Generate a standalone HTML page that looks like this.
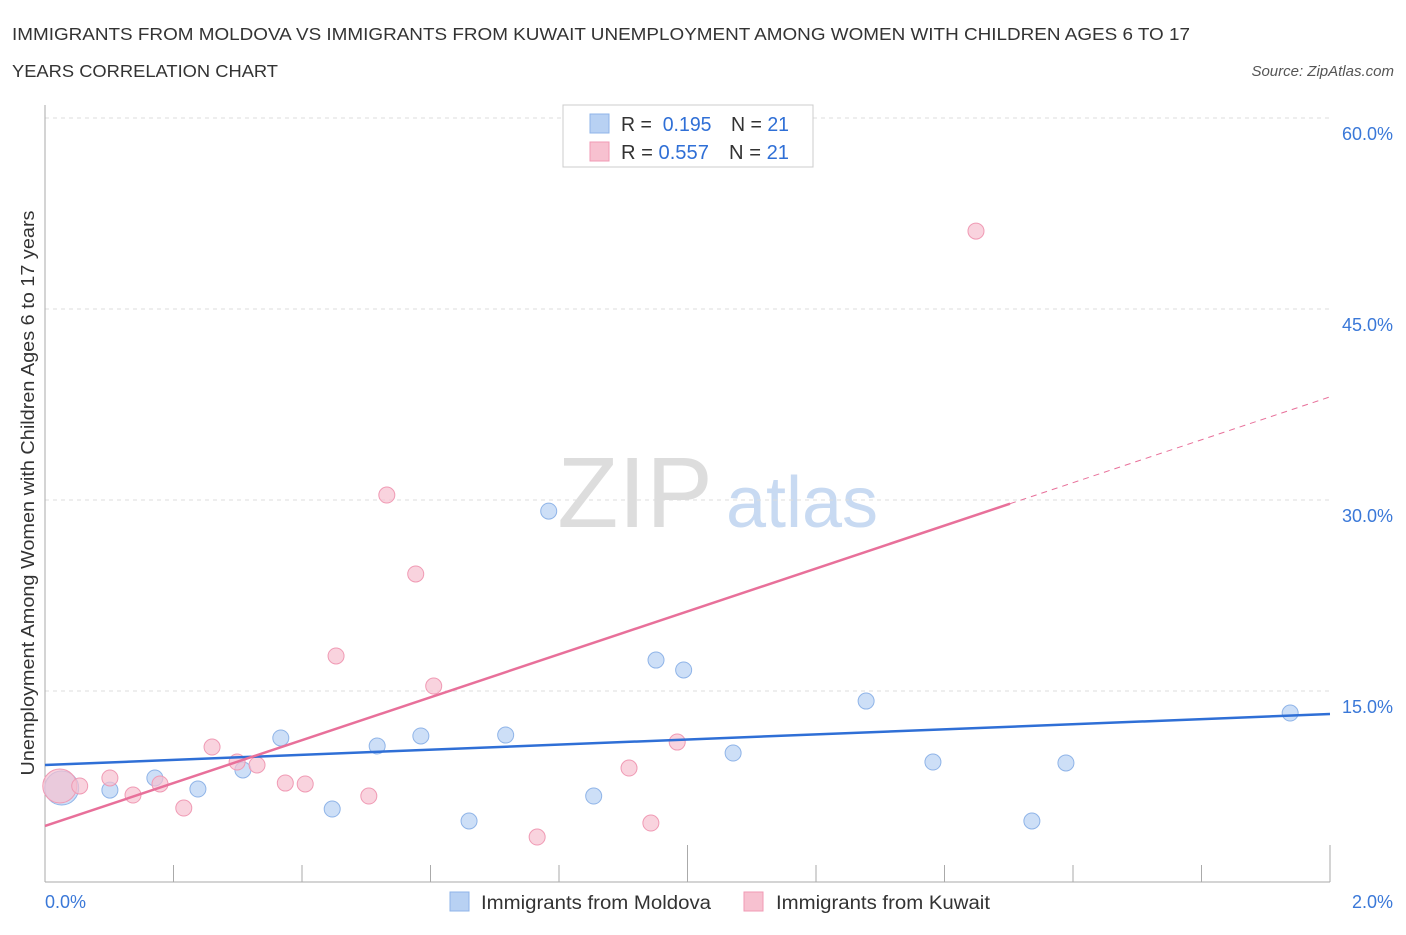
<!DOCTYPE html>
<html><head><meta charset="utf-8"><style>
body{margin:0;background:#fff;font-family:"Liberation Sans",sans-serif}
svg text{font-family:"Liberation Sans",sans-serif}
</style></head><body>
<svg id="c" width="1406" height="930">
<text x="12" y="40" font-size="17.5" fill="#333" textLength="1178" lengthAdjust="spacingAndGlyphs">IMMIGRANTS FROM MOLDOVA VS IMMIGRANTS FROM KUWAIT UNEMPLOYMENT AMONG WOMEN WITH CHILDREN AGES 6 TO 17</text>
<text x="12" y="77" font-size="17.5" fill="#333" textLength="266" lengthAdjust="spacingAndGlyphs">YEARS CORRELATION CHART</text>
<text x="1394" y="76" font-size="15" fill="#555" font-style="italic" text-anchor="end">Source: ZipAtlas.com</text>
<text x="635" y="527" font-size="100" fill="#ddd" font-family="Liberation Serif" text-anchor="middle">ZIP</text>
<text x="802" y="527" font-size="72" fill="#c8daf2" text-anchor="middle">atlas</text>
<text transform="translate(34,493) rotate(-90)" font-size="18" fill="#333" text-anchor="middle" textLength="565" lengthAdjust="spacingAndGlyphs">Unemployment Among Women with Children Ages 6 to 17 years</text>
<g id="grid"></g><g id="marks"></g>
<g>
<rect x="563" y="105" width="250" height="62" fill="#fff" stroke="#ccc"/>
<rect x="590" y="114" width="19" height="19" fill="#b8d1f3" stroke="#8fb4e8"/>
<rect x="590" y="142" width="19" height="19" fill="#f7c1d0" stroke="#f09ab4"/>
<text x="621" y="131" font-size="20" fill="#333" textLength="168" lengthAdjust="spacingAndGlyphs">R = <tspan fill="#2f6fd6">&#160;0.195</tspan><tspan dx="20">N = </tspan><tspan fill="#2f6fd6">21</tspan></text>
<text x="621" y="159" font-size="20" fill="#333" textLength="168" lengthAdjust="spacingAndGlyphs">R = <tspan fill="#2f6fd6">0.557</tspan><tspan dx="20">N = </tspan><tspan fill="#2f6fd6">21</tspan></text>
</g>
<g>
<rect x="450" y="892" width="19" height="19" fill="#b8d1f3" stroke="#8fb4e8"/>
<text x="481" y="909" font-size="19" fill="#333" textLength="230" lengthAdjust="spacingAndGlyphs">Immigrants from Moldova</text>
<rect x="744" y="892" width="19" height="19" fill="#f7c1d0" stroke="#f09ab4"/>
<text x="776" y="909" font-size="19" fill="#333" textLength="214" lengthAdjust="spacingAndGlyphs">Immigrants from Kuwait</text>
</g>
</svg>
<script>
const moldovaX=[0.026,0.101,0.171,0.238,0.308,0.367,0.447,0.517,0.585,0.660,0.717,0.784,0.854,0.951,0.994,1.071,1.278,1.382,1.536,1.589,1.938];
const moldovaY=[7.38,7.22,8.17,7.30,8.80,11.31,5.73,10.68,11.47,4.79,11.54,29.13,6.75,17.43,16.65,10.13,14.21,9.42,4.79,9.35,13.27];
const kuwaitX=[0.023,0.054,0.101,0.137,0.179,0.216,0.260,0.299,0.330,0.374,0.405,0.453,0.504,0.532,0.577,0.605,0.766,0.909,0.943,0.984,1.449];
const kuwaitY=[7.54,7.54,8.17,6.83,7.70,5.81,10.60,9.42,9.19,7.77,7.70,17.75,6.75,30.39,24.19,15.39,3.53,8.95,4.63,10.99,51.12];
const moldovaTrend=[9.19,13.19];
const kuwaitTrend=[4.40,38.1];
const yTicks=[15,30,45,60];
const xTickLabels=["0.0%","2.0%"];
const NS="http://www.w3.org/2000/svg";
const X=v=>45+v/2*1285, Y=v=>882-v/15*191;
function mk(p,t,a){const e=document.createElementNS(NS,t);for(const k in a)e.setAttribute(k,a[k]);p.appendChild(e);return e;}
const g=document.getElementById('grid'),m=document.getElementById('marks');
yTicks.forEach(t=>{const l=mk(g,'line',{x1:45,x2:1330,y1:Y(t),y2:Y(t),stroke:'#ddd','stroke-dasharray':'4,4'});


const tx=mk(g,'text',{x:1393,y:Y(t)+22,'font-size':18,fill:'#3a78d8','text-anchor':'end'});tx.textContent=t.toFixed(1)+'%';

});
mk(g,'line',{x1:45,x2:45,y1:105,y2:882,stroke:'#aaa'});
mk(g,'line',{x1:45,x2:1330,y1:882,y2:882,stroke:'#aaa'});
for(let i=0;i<=10;i++){const t=mk(g,'line',{x1:X(i*0.2),x2:X(i*0.2),y1:i%5==0?845:865,y2:882,stroke:'#aaa'});

}
[[0,'start',45],[1,'end',1393]].forEach(([i,a,x])=>{const t=mk(g,'text',{x:x,y:908,'font-size':18,fill:'#3a78d8','text-anchor':a});t.textContent=xTickLabels[i];

});
function pts(xs,ys,fill,stroke,name){xs.forEach((x,i)=>{const c=mk(m,'circle',{cx:X(x),cy:Y(ys[i]),r:i==0?17:8,fill:fill,'fill-opacity':0.7,stroke:stroke});

});}
pts(moldovaX,moldovaY,'#b8d1f3','#8fb4e8','moldova-point');
pts(kuwaitX,kuwaitY,'#f7c1d0','#f09ab4','kuwait-point');
const bl=mk(m,'line',{x1:X(0),y1:Y(moldovaTrend[0]),x2:X(2),y2:Y(moldovaTrend[1]),stroke:'#2f6fd6','stroke-width':2.5});


const ks=(kuwaitTrend[1]-kuwaitTrend[0])/2,xe=1.502;
const pl=mk(m,'line',{x1:X(0),y1:Y(kuwaitTrend[0]),x2:X(xe),y2:Y(kuwaitTrend[0]+ks*xe),stroke:'#e8709a','stroke-width':2.5});


const pd=mk(m,'line',{x1:X(xe),y1:Y(kuwaitTrend[0]+ks*xe),x2:X(2),y2:Y(kuwaitTrend[1]),stroke:'#e8709a','stroke-width':1,'stroke-dasharray':'6,5'});


</script>
</body></html>
